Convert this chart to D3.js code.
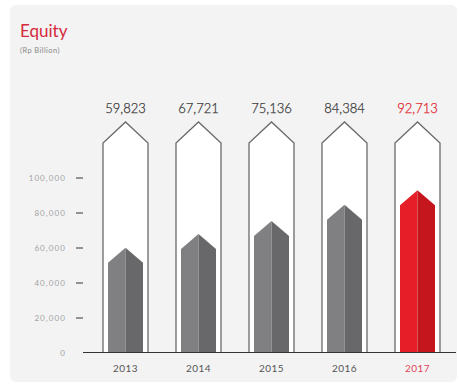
<!DOCTYPE html>
<html>
<head>
<meta charset="utf-8">
<script src="https://cdn.jsdelivr.net/npm/d3@7"></script>
<style>
  body { margin: 0; background: #fff; }
  svg { display: block; }
</style>
</head>
<body>
<div id="chart"></div>
<script>
// values
const years = ["2013", "2014", "2015", "2016", "2017"];
const equity = [59823, 67721, 75136, 84384, 92713];
const tickValues = [0, 20000, 40000, 60000, 80000, 100000];

let width = 459, height = 385;
let fmt = d3.format(",d");
let red = "#df1f2d";

const svg = d3.select("#chart").append("svg")
    .attr("width", width)
    .attr("height", height)
    .style("font-family", "Lato, 'Open Sans', sans-serif");

// card background
svg.append("rect")
    .attr("x", 10).attr("y", 5)
    .attr("width", 447).attr("height", 377)
    .attr("rx", 6)
    .attr("fill", "#f3f3f3");

svg.append("text")
    .attr("x", 20).attr("y", 37)
    .attr("font-size", 17)
    .attr("fill", "#d42a3c")
    .text("Equity");

svg.append("text")
    .attr("x", 20).attr("y", 53)
    .attr("font-size", 7.5)
    .attr("letter-spacing", 0.4)
    .attr("fill", "#8a8a8a")
    .text("(Rp Billion)");

const x = d3.scalePoint().domain(years).range([89, 454]).padding(0.5);
const y = d3.scaleLinear().domain([0, 100000]).range([352.5, 177.5]);

// y axis: ticks only, no domain line
const yAxis = svg.append("g")
    .attr("transform", "translate(83,0)")
    .call(d3.axisLeft(y).tickValues(tickValues).tickSize(7).tickPadding(10).tickFormat(fmt));
yAxis.select(".domain").remove();
yAxis.selectAll(".tick line")
    .attr("stroke", "#333")
    .attr("stroke-width", 1)
    .filter(d => d === 0).remove();
yAxis.selectAll(".tick text")
    .attr("fill", "#a3a3a3")
    .attr("font-size", 8)
    .attr("letter-spacing", 1.1)
    .style("font-family", "Lato, sans-serif");

// capsules (outline arrows)
let capW = 45, capTop = 122, capShoulder = 21;
const bars = svg.selectAll("g.bar")
  .data(years.map((yr, i) => ({ year: yr, value: equity[i], last: i === years.length - 1 })))
  .join("g")
    .attr("class", "bar");

bars.append("path")
    .attr("d", d => {
      const cx = x(d.year), h = capW / 2, b = y(0);
      return `M${cx - h},${b} L${cx - h},${capTop + capShoulder} L${cx},${capTop} L${cx + h},${capTop + capShoulder} L${cx + h},${b}`;
    })
    .attr("fill", "#fff")
    .attr("stroke", "#6a6a6a")
    .attr("stroke-width", 1.3);

// inner arrow, two halves
let inW = 35, inShoulder = 15;
bars.append("path")
    .attr("d", d => {
      const cx = x(d.year), h = inW / 2, b = y(0), t = y(d.value);
      return `M${cx - h},${b} L${cx - h},${t + inShoulder} L${cx},${t} L${cx},${b} Z`;
    })
    .attr("fill", d => d.last ? "#e51e27" : "#808083");

bars.append("path")
    .attr("d", d => {
      const cx = x(d.year), h = inW / 2, b = y(0), t = y(d.value);
      return `M${cx},${b} L${cx},${t} L${cx + h},${t + inShoulder} L${cx + h},${b} Z`;
    })
    .attr("fill", d => d.last ? "#c5161e" : "#68686b");

bars.append("text")
    .attr("x", d => x(d.year))
    .attr("y", 113)
    .attr("text-anchor", "middle")
    .attr("font-size", 13)
    .attr("font-weight", 300)
    .attr("stroke", d => d.last ? red : "#3a3a3a")
    .attr("stroke-width", 0.25)
    .attr("fill", d => d.last ? red : "#3a3a3a")
    .text(d => fmt(d.value));

// baseline
svg.append("line")
    .attr("x1", 83).attr("x2", 456)
    .attr("y1", y(0)).attr("y2", y(0))
    .attr("stroke", "#333")
    .attr("stroke-width", 1.2);

bars.append("text")
    .attr("x", d => x(d.year))
    .attr("y", 372)
    .attr("text-anchor", "middle")
    .attr("font-size", 10)
    .attr("letter-spacing", 0.4)
    .attr("fill", d => d.last ? "#e04555" : "#555")
    .text(d => d.year);
</script>
</body>
</html>
